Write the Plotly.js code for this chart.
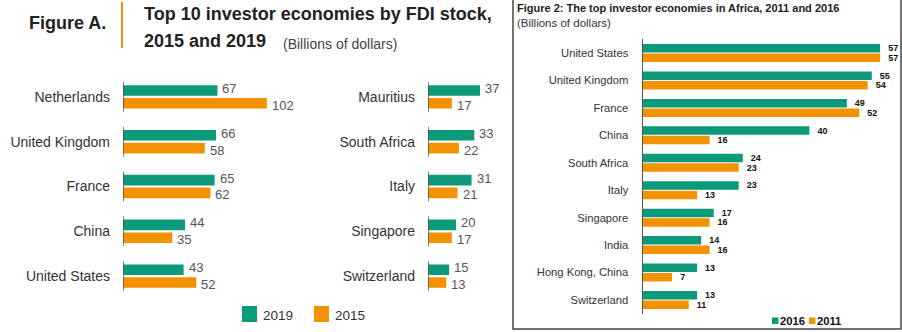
<!DOCTYPE html>
<html>
<head>
<meta charset="utf-8">
<script src="https://cdn.plot.ly/plotly-3.0.1.min.js"></script>
<style>html,body{margin:0;padding:0;background:#fff;}#chart{width:902px;height:332px;}</style>
</head>
<body>
<div id="chart"></div>
<script>
// ---- Data ----
const catsA1 = ['Netherlands', 'United Kingdom', 'France', 'China', 'United States'];
const stock2019A1 = [67, 66, 65, 44, 43];
const stock2015A1 = [102, 58, 62, 35, 52];

const catsA2 = ['Mauritius', 'South Africa', 'Italy', 'Singapore', 'Switzerland'];
const stock2019A2 = [37, 33, 31, 20, 15];
const stock2015A2 = [17, 22, 21, 17, 13];

const catsB = ['United States', 'United Kingdom', 'France', 'China', 'South Africa', 'Italy', 'Singapore', 'India', 'Hong Kong, China', 'Switzerland'];
const stock2016B = [57, 55, 49, 40, 24, 23, 17, 14, 13, 13];
const stock2011B = [57, 54, 52, 16, 23, 13, 16, 16, 7, 11];

const legendA = ['2019', '2015'];
const legendB = ['2016', '2011'];

// ---- Style ----
const GREEN = '#0c9a7a';
const ORANGE = '#f39200';
const FONT = '"Liberation Sans", Arial, sans-serif';
const W = 902, H = 332;
const px = v => v / W;
const py = v => 1 - v / H;

const BAR_A = { w: 0.235, gOff: -0.26, oOff: 0.025 };
const BAR_B = { w: 0.31, gOff: -0.328, oOff: 0.018 };

function barTrace(cats, vals, color, xa, ya, offset, width, name, tfont, tpl) {
  const t = {
    type: 'bar', orientation: 'h', name: name,
    y: cats, x: vals, xaxis: xa, yaxis: ya,
    marker: { color: color, line: { width: 0 } },
    offset: offset, width: width, cliponaxis: false, hoverinfo: 'skip'
  };
  if (tfont) {
    Object.assign(t, { text: vals.map(String), texttemplate: tpl, textposition: 'outside', constraintext: 'none', textfont: tfont });
  }
  return t;
}

const fontB = { family: FONT, size: 9, color: '#111', weight: 'bold' };
const tplB = '\u00a0\u00a0%{x}';

const data = [
  barTrace(catsA1, stock2019A1, GREEN, 'x', 'y', BAR_A.gOff, BAR_A.w, legendA[0]),
  barTrace(catsA1, stock2015A1, ORANGE, 'x', 'y', BAR_A.oOff, BAR_A.w, legendA[1]),
  barTrace(catsA2, stock2019A2, GREEN, 'x2', 'y2', BAR_A.gOff, BAR_A.w, legendA[0]),
  barTrace(catsA2, stock2015A2, ORANGE, 'x2', 'y2', BAR_A.oOff, BAR_A.w, legendA[1]),
  barTrace(catsB, stock2016B, GREEN, 'x3', 'y3', BAR_B.gOff, BAR_B.w, legendB[0], fontB, tplB),
  barTrace(catsB, stock2011B, ORANGE, 'x3', 'y3', BAR_B.oOff, BAR_B.w, legendB[1], fontB, tplB)
];

const hiddenX = (dom, rng) => ({ domain: dom, range: rng, showgrid: false, zeroline: false, showline: false, showticklabels: false, ticks: '', fixedrange: true });
const catY = (dom, n, fsize, color, standoff, xa, line) => ({
  domain: dom, type: 'category', range: [n - 0.5, -0.5], anchor: xa,
  showgrid: false, zeroline: false, ticks: '', ticklabelstandoff: standoff,
  showline: line, linecolor: '#555', linewidth: 1.5,
  tickfont: { family: FONT, size: fsize, color: color }, fixedrange: true
});

const yDomA = [(H - 298.4) / H, (H - 74.6) / H];
const yDomB = [(H - 313.7) / H, (H - 39.3) / H];

const shapes = [];
catsA1.forEach((c, i) => shapes.push({ type: 'line', xref: 'x', yref: 'y', x0: 0, x1: 0, y0: i - 0.335, y1: i + 0.335, line: { color: '#555', width: 1.5 } }));
catsA2.forEach((c, i) => shapes.push({ type: 'line', xref: 'x2', yref: 'y2', x0: 0, x1: 0, y0: i - 0.335, y1: i + 0.335, line: { color: '#555', width: 1.5 } }));
// orange divider next to "Figure A."
shapes.push({ type: 'line', xref: 'paper', yref: 'paper', x0: px(122), x1: px(122), y0: py(2), y1: py(48), line: { color: ORANGE, width: 2 } });
// frame of Figure 2
shapes.push({ type: 'rect', xref: 'paper', yref: 'paper', x0: px(513), x1: px(901), y0: py(329), y1: py(-5), line: { color: '#444', width: 1.5 }, fillcolor: 'rgba(0,0,0,0)' });
// legend swatches
shapes.push({ type: 'rect', xref: 'paper', yref: 'paper', x0: px(242), x1: px(257), y0: py(322), y1: py(306), line: { width: 0 }, fillcolor: GREEN });
shapes.push({ type: 'rect', xref: 'paper', yref: 'paper', x0: px(314), x1: px(329), y0: py(322), y1: py(306), line: { width: 0 }, fillcolor: ORANGE });
shapes.push({ type: 'rect', xref: 'paper', yref: 'paper', x0: px(772), x1: px(778.5), y0: py(324), y1: py(317.5), line: { width: 0 }, fillcolor: GREEN });
shapes.push({ type: 'rect', xref: 'paper', yref: 'paper', x0: px(809), x1: px(815.5), y0: py(324), y1: py(317.5), line: { width: 0 }, fillcolor: ORANGE });

function ann(text, x, y, size, color, bold, anchor) {
  return {
    text: text, xref: 'paper', yref: 'paper', x: px(x), y: py(y),
    xanchor: anchor || 'left', yanchor: 'middle', showarrow: false,
    font: { family: FONT, size: size, color: color, weight: bold ? 'bold' : 'normal' }
  };
}

const annotations = [
  ann('Figure A.', 27, 23, 18, '#222', true),
  ann('Top 10 investor economies by FDI stock,', 142, 14, 18, '#222', true),
  ann('2015 and 2019', 142, 41, 18, '#222', true),
  ann('(Billions of dollars)', 281, 44, 14, '#444', false),
  ann('Figure 2: The top investor economies in Africa, 2011 and 2016', 515, 8, 11, '#222', true),
  ann('(Billions of dollars)', 515, 23.5, 11.5, '#333', false),
  ann(legendA[0], 261, 315, 13.5, '#333', false),
  ann(legendA[1], 333, 315, 13.5, '#333', false),
  ann(legendB[0], 777.5, 321, 11.2, '#111', true),
  ann(legendB[1], 814.5, 321, 11.2, '#111', true)
];

// value labels for Figure A (green slightly raised, orange slightly lowered, as in the original)
function valueLabels(vals, xa, ya, off, yshift) {
  vals.forEach((v, i) => annotations.push({
    text: String(v), x: v, y: i + off + BAR_A.w / 2, xref: xa, yref: ya,
    xanchor: 'left', yanchor: 'middle', xshift: 3, yshift: yshift, showarrow: false,
    font: { family: FONT, size: 13, color: '#555' }
  }));
}
valueLabels(stock2019A1, 'x', 'y', BAR_A.gOff, 2);
valueLabels(stock2015A1, 'x', 'y', BAR_A.oOff, -2);
valueLabels(stock2019A2, 'x2', 'y2', BAR_A.gOff, 2);
valueLabels(stock2015A2, 'x2', 'y2', BAR_A.oOff, -2);

const layout = {
  width: W, height: H, margin: { l: 0, r: 0, t: 0, b: 0 },
  paper_bgcolor: '#fff', plot_bgcolor: 'rgba(0,0,0,0)',
  showlegend: false, barmode: 'overlay',
  xaxis: hiddenX([px(123), px(123 + 1.41 * 115)], [0, 115]),
  yaxis: catY(yDomA, catsA1.length, 14, '#333', 12, 'x', false),
  xaxis2: hiddenX([px(428), px(428 + 1.405 * 50)], [0, 50]),
  yaxis2: catY(yDomA, catsA2.length, 14, '#333', 12, 'x2', false),
  xaxis3: hiddenX([px(643), px(643 + 4.16 * 62)], [0, 62]),
  yaxis3: catY(yDomB, catsB.length, 11.2, '#333', 11, 'x3', true),
  shapes: shapes, annotations: annotations
};
layout.xaxis2.anchor = 'y2';
layout.xaxis3.anchor = 'y3';

Plotly.newPlot('chart', data, layout, { staticPlot: true, displayModeBar: false });
</script>
</body>
</html>
